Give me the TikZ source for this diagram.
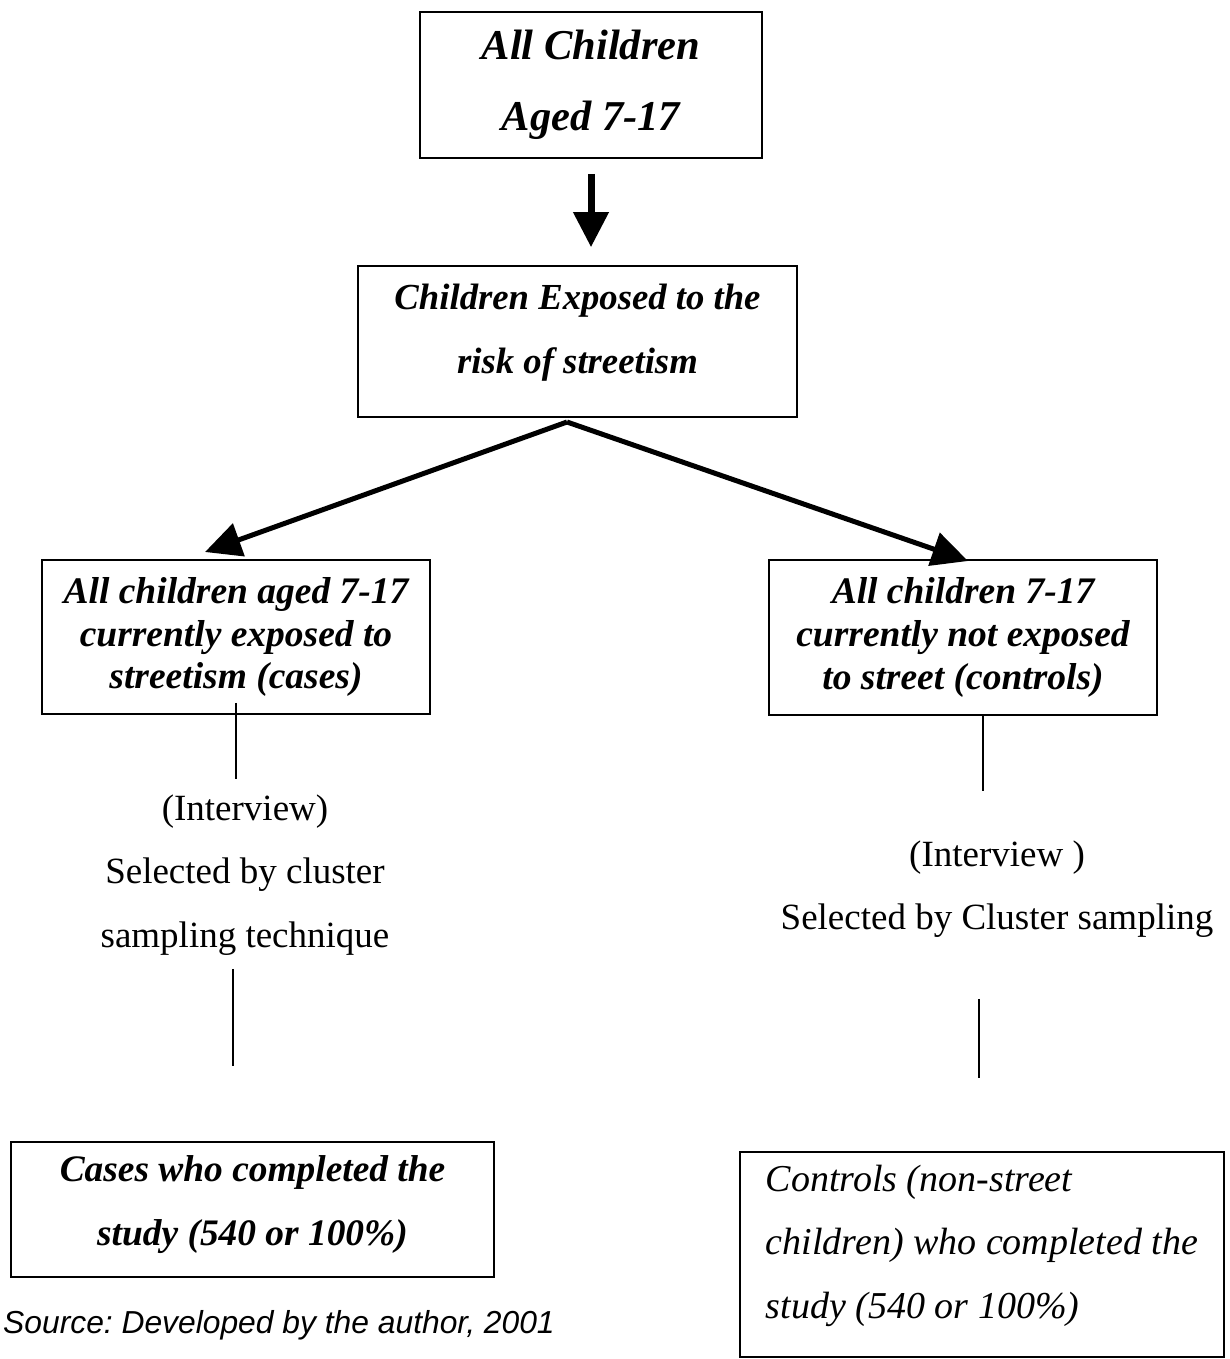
\documentclass[tikz,border=0pt]{standalone}
\usepackage{fontspec}
\setmainfont{Liberation Serif}
\setsansfont{Liberation Sans}
\usetikzlibrary{arrows.meta}
\frenchspacing
% extra depth under the last line, to lift the text in its box
\newcommand{\padbelow}[1]{\rule[-#1]{0pt}{#1}}

\begin{document}
\begin{tikzpicture}[x=1pt,y=-1pt,
  box/.style={draw,line width=1.6pt,inner sep=0pt,align=center},
  bigarrow/.style={line width=5pt,-{Triangle[length=36pt,width=34pt]}},
  stem/.style={line width=1.5pt},
  plain/.style={inner sep=0pt,align=center,font=\fontsize{37}{63.5}\selectfont}]
\useasboundingbox (0,0) rectangle (1230,1359);

\node[box,minimum width=342pt,minimum height=146pt,font=\fontsize{42.5}{71}\selectfont\bfseries\itshape] (all) at (591,85) {All Children\\Aged 7-17};
\node[box,minimum width=439pt,minimum height=151pt,font=\fontsize{36.7}{64}\selectfont\bfseries\itshape] (risk) at (577.5,341.5) {Children Exposed to the\\risk of streetism\padbelow{25pt}};
\node[box,minimum width=388pt,minimum height=154pt,font=\fontsize{37.5}{42.5}\selectfont\bfseries\itshape] (cases) at (236,637) {All children aged 7-17\\currently exposed to\\streetism (cases)};
\node[box,minimum width=388pt,minimum height=155pt,font=\fontsize{37.5}{43}\selectfont\bfseries\itshape] (controls) at (963,637.5) {All children 7-17\\currently not exposed\\to street (controls)};
\node[box,minimum width=483pt,minimum height=135pt,font=\fontsize{37.4}{64}\selectfont\bfseries\itshape] (casesdone) at (252.5,1209.5) {Cases who completed the\\study (540 or 100\%)\padbelow{17pt}};
\node[box,minimum width=484pt,minimum height=205pt,align=left,font=\fontsize{38}{63.5}\selectfont\itshape] (controlsdone) at (982,1254.5) {Controls (non-street\\children) who completed the\\study (540 or 100\%)\padbelow{26pt}};

\node[plain] (selL) at (245,875) {(Interview)\\Selected by cluster\\sampling technique};
\node[plain] (selR) at (997,889) {(Interview )\\Selected by Cluster sampling};
\node[anchor=base west,inner sep=0pt,font=\fontsize{31.8}{36}\selectfont\sffamily\itshape] (source) at (3,1333) {Source: Developed by the author, 2001};

\coordinate (fork) at (567,422);
\coordinate (casetip) at (205,552);
\coordinate (ctrltip) at (968,561);

\draw[line width=7pt,-{Triangle[length=35pt,width=34pt]},shorten <=15pt,shorten >=18pt] (all.south) -- (all.south |- risk.north);
\draw[bigarrow] (fork) -- (casetip);
\draw[bigarrow] (fork) -- (ctrltip);

\draw[stem] ([yshift=12pt]cases.south) -- ++(0,76);
\draw[stem] ([xshift=-3pt,yshift=-254pt]cases.south) -- ++(0,97);
\draw[stem] ([xshift=20pt]controls.south) -- ++(0,75);
\draw[stem] ([xshift=16pt,yshift=-283pt]controls.south) -- ++(0,79);
\end{tikzpicture}
\end{document}
